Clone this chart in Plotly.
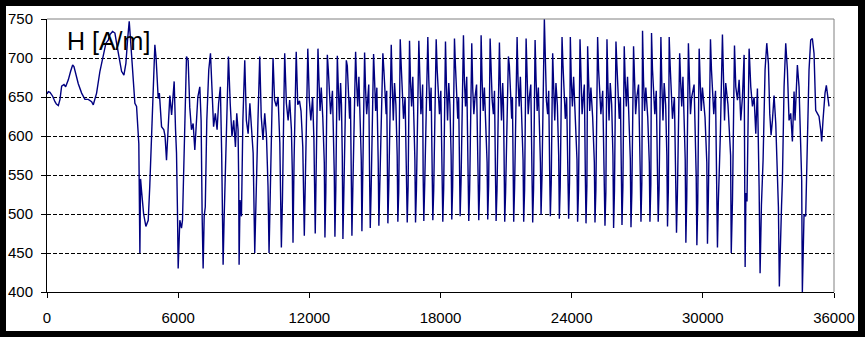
import plotly.graph_objects as go

# ---- data (position, H in A/m) ----
seg_start = [(0, 654), (60, 657), (137, 656), (200, 653), (259, 651), (365, 644), (430, 641),
             (518, 639), (594, 647), (670, 664), (777, 666), (853, 663), (975, 672), (1081, 683),
             (1173, 691), (1233, 689), (1325, 678), (1431, 667), (1584, 655), (1736, 647),
             (1888, 647), (2041, 644), (2117, 640), (2269, 655), (2421, 683), (2574, 704),
             (2695, 719), (2802, 723), (2878, 730), (3000, 734), (3107, 732), (3183, 719),
             (3305, 698), (3411, 683), (3518, 678), (3609, 693), (3685, 723), (3761, 747),
             (3822, 723), (3914, 689), (3974, 667), (4020, 642), (4097, 638), (4143, 620), (4200, 590)]

seg_early = [(4249, 450), (4280, 545), (4330, 528), (4420, 500), (4523, 484), (4580, 488), (4630, 492),
             (4700, 535), (4782, 599), (4858, 680), (4934, 717), (4990, 700), (5040, 660), (5087, 648),
             (5140, 655), (5240, 612), (5345, 608), (5400, 600), (5467, 569), (5530, 603), (5619, 652),
             (5700, 627), (5760, 650), (5817, 670), (5880, 608), (5924, 578), (5970, 500),
             (6000, 430), (6076, 492), (6152, 482), (6198, 492), (6250, 556), (6305, 620), (6381, 702),
             (6457, 697), (6530, 637), (6609, 608), (6685, 616), (6762, 582), (6830, 620), (6900, 650),
             (6990, 663), (7050, 620), (7097, 497),
             (7142, 430), (7190, 497), (7240, 509), (7310, 620), (7400, 685), (7478, 706), (7550, 646),
             (7620, 612), (7700, 629), (7780, 608), (7850, 642), (7930, 663), (7990, 578), (8030, 501),
             (8056, 435), (8100, 492), (8170, 556), (8240, 642), (8300, 702), (8380, 642), (8460, 599),
             (8540, 620), (8620, 586), (8680, 629), (8740, 608), (8770, 540),
             (8787, 435), (8830, 518), (8895, 497), (8960, 620), (9046, 697), (9120, 620), (9200, 603),
             (9280, 642), (9350, 612), (9430, 578),
             (9503, 450), (9550, 518), (9650, 620), (9731, 702), (9800, 625), (9880, 595), (9960, 629),
             (10040, 599), (10110, 535),
             (10157, 450), (10210, 526), (10290, 672), (10340, 700), (10410, 646), (10490, 638),
             (10570, 650), (10650, 591),
             (10721, 457), (10770, 518), (10840, 650), (10873, 706), (10950, 642), (11030, 620),
             (11100, 646), (11180, 608), (11220, 556),
             (11253, 463), (11300, 565), (11400, 708), (11470, 640), (11550, 645), (11620, 632), (11700, 586),
             (11770, 472), (11830, 561), (11930, 712), (12000, 646), (12070, 620), (12150, 650), (12210, 595)]

seg_mid1 = [(12270, 475), (12310, 535), (12395, 712), (12440, 672), (12490, 632), (12545, 662), (12615, 624), (12684, 566),
            (12714, 470), (12754, 528), (12823, 704), (12868, 685), (12918, 645), (12973, 628), (13057, 658), (13141, 552),
            (13171, 471), (13211, 532), (13280, 703), (13325, 664), (13375, 620), (13430, 668), (13470, 640), (13507, 575),
            (13537, 468), (13577, 525), (13692, 697), (13737, 690), (13787, 655), (13842, 622), (13880, 650), (13918, 560),
            (13948, 472), (13988, 530), (14117, 708), (14162, 670), (14212, 638), (14267, 676), (14320, 618), (14375, 570),
            (14405, 478), (14445, 536), (14528, 707), (14573, 660), (14623, 628), (14678, 650), (14718, 666), (14757, 548),
            (14787, 482), (14827, 530), (14939, 705), (14984, 672), (15034, 632), (15089, 662), (15120, 624), (15151, 566),
            (15181, 485), (15221, 538), (15364, 706), (15409, 685), (15459, 645), (15514, 628), (15540, 658), (15563, 552),
            (15593, 488), (15633, 533), (15747, 717), (15792, 664), (15842, 620), (15897, 668), (15960, 640), (16019, 575),
            (16049, 490), (16089, 528), (16158, 724), (16203, 690), (16253, 655), (16308, 622), (16380, 650), (16448, 560),
            (16478, 489), (16518, 535), (16583, 722), (16628, 670), (16678, 638), (16733, 676), (16780, 618), (16828, 570),
            (16858, 489), (16898, 530), (17009, 722), (17054, 660), (17104, 628), (17159, 650), (17183, 666), (17207, 548),
            (17237, 491), (17277, 537), (17420, 727), (17465, 672), (17515, 632), (17570, 662), (17595, 624), (17619, 566),
            (17649, 492), (17689, 530), (17803, 724), (17848, 685), (17898, 645), (17953, 628), (18015, 658), (18075, 552)]

seg_mid2 = [(18105, 490), (18145, 532), (18228, 721), (18273, 664), (18323, 620), (18378, 668), (18430, 640), (18486, 575),
            (18516, 493), (18556, 535), (18639, 725), (18684, 690), (18734, 655), (18789, 622), (18830, 650), (18869, 560),
            (18899, 497), (18939, 540), (19050, 729), (19095, 670), (19145, 638), (19200, 676), (19230, 618), (19263, 570),
            (19293, 491), (19333, 530), (19430, 719), (19475, 660), (19525, 628), (19580, 650), (19650, 666), (19720, 548),
            (19750, 492), (19790, 533), (19858, 729), (19903, 672), (19953, 632), (20008, 662), (20070, 624), (20131, 566),
            (20161, 493), (20201, 536), (20270, 725), (20315, 685), (20365, 645), (20420, 628), (20470, 658), (20514, 552),
            (20544, 491), (20584, 530), (20695, 720), (20740, 664), (20790, 620), (20845, 668), (20880, 640), (20908, 575),
            (20938, 490), (20978, 528), (21106, 702), (21151, 690), (21201, 655), (21256, 622), (21290, 650), (21319, 560),
            (21349, 490), (21389, 534), (21504, 727), (21549, 670), (21599, 638), (21654, 676), (21715, 618), (21776, 570),
            (21806, 490), (21846, 530), (21916, 725), (21961, 660), (22011, 628), (22066, 650), (22130, 666), (22187, 548),
            (22217, 489), (22257, 532), (22327, 723), (22372, 672), (22422, 632), (22477, 662), (22525, 624), (22570, 566),
            (22600, 499), (22640, 545), (22751, 750), (22796, 685), (22846, 645), (22901, 628), (22950, 658), (22995, 552),
            (23025, 497), (23065, 540), (23131, 706), (23176, 664), (23226, 620), (23281, 668), (23345, 640), (23406, 575),
            (23436, 494), (23476, 535), (23559, 727), (23604, 690), (23654, 655), (23709, 622), (23770, 650), (23832, 560),
            (23862, 494), (23902, 540), (23939, 727), (23984, 670), (24034, 638), (24089, 676), (24170, 618), (24243, 570)]

seg_mid3 = [(24273, 490), (24313, 530), (24382, 724), (24427, 660), (24477, 628), (24532, 650), (24580, 666), (24626, 548),
            (24656, 488), (24696, 536), (24730, 715), (24775, 672), (24825, 632), (24880, 662), (24960, 624), (25037, 566),
            (25067, 489), (25107, 530), (25187, 727), (25232, 685), (25282, 645), (25337, 628), (25420, 658), (25494, 552),
            (25524, 485), (25564, 528), (25615, 724), (25660, 664), (25710, 620), (25765, 668), (25830, 640), (25888, 575),
            (25918, 482), (25958, 530), (26026, 721), (26071, 690), (26121, 655), (26176, 622), (26230, 650), (26272, 560),
            (26302, 486), (26342, 534), (26405, 715), (26450, 670), (26500, 638), (26555, 676), (26620, 618), (26683, 570),
            (26713, 483), (26753, 528), (26831, 715), (26876, 660), (26926, 628), (26981, 650), (27060, 666), (27140, 548),
            (27170, 490), (27210, 540), (27242, 735), (27287, 672), (27337, 632), (27392, 662), (27480, 624), (27551, 566),
            (27581, 490), (27621, 538), (27653, 732), (27698, 685), (27748, 645), (27803, 628), (27870, 658), (27929, 552),
            (27959, 490), (27999, 532), (28082, 727), (28127, 664), (28177, 620), (28232, 668), (28300, 640), (28354, 575),
            (28384, 484), (28424, 533), (28461, 727), (28506, 690), (28556, 655), (28611, 622), (28700, 650), (28766, 560),
            (28796, 476), (28836, 525), (28940, 706), (28985, 670), (29035, 638), (29090, 676), (29150, 618), (29194, 570),
            (29224, 463), (29264, 520), (29340, 719), (29385, 660), (29435, 628), (29490, 650), (29600, 666), (29697, 548),
            (29727, 460), (29767, 515), (29832, 712), (29877, 672), (29927, 632), (29982, 662), (30100, 624), (30182, 566),
            (30212, 462), (30252, 520), (30350, 724), (30395, 685), (30445, 645), (30500, 628), (30580, 658), (30639, 552),
            (30669, 457), (30709, 515), (30800, 600), (30897, 730), (30942, 664), (30992, 620), (31047, 668), (31150, 640), (31270, 575)]

seg_end = [(31300, 450), (31356, 518), (31448, 716), (31508, 663), (31584, 646), (31660, 672), (31736, 620),
           (31812, 650), (31889, 704),
           (31935, 432), (31970, 527), (32020, 516), (32070, 600), (32117, 712), (32193, 663), (32269, 638),
           (32345, 650), (32422, 603), (32497, 661), (32543, 599), (32574, 535),
           (32619, 424), (32680, 511), (32756, 569), (32847, 685), (32924, 719), (33000, 693), (33061, 629),
           (33122, 601), (33183, 620), (33259, 652), (33336, 616), (33411, 543), (33457, 509),
           (33500, 407), (33564, 505), (33600, 510), (33640, 543), (33716, 663), (33792, 719), (33868, 685),
           (33944, 620), (34020, 629), (34097, 593), (34173, 657), (34218, 620), (34279, 655), (34325, 691),
           (34401, 663), (34477, 586), (34522, 543),
           (34552, 400), (34629, 499), (34705, 497), (34781, 578), (34858, 685), (34934, 723), (35010, 725),
           (35086, 706), (35163, 633), (35239, 629), (35315, 625), (35391, 608), (35437, 593), (35497, 620),
           (35589, 655), (35650, 665), (35711, 650), (35772, 638)]

x_ticks = [0, 6000, 12000, 18000, 24000, 30000, 36000]
y_ticks = [400, 450, 500, 550, 600, 650, 700, 750]
title_text = "H [A/m]"

segments = [seg_start, seg_early, seg_mid1, seg_mid2, seg_mid3, seg_end]
pos = [p[0] for s in segments for p in s]
field = [p[1] for s in segments for p in s]

fig = go.Figure(go.Scatter(x=pos, y=field, mode="lines",
                           line=dict(color="#000080", width=1.4), hoverinfo="skip"))

fig.update_layout(
    width=865, height=337,
    margin=dict(l=47, r=31, t=19, b=45),
    paper_bgcolor="black", plot_bgcolor="white",
    showlegend=False,
    font=dict(family="Liberation Sans, Arial, sans-serif", size=15, color="black"),
)
fig.update_xaxes(range=[0, 36000], tickvals=x_ticks, ticktext=[str(v) for v in x_ticks],
                 ticks="outside", ticklen=5, tickcolor="black", tickwidth=1,
                 ticklabelstandoff=7, automargin=False,
                 showline=True, linecolor="black", linewidth=1,
                 showgrid=False, zeroline=False)
fig.update_yaxes(range=[400, 750], tickvals=y_ticks,
                 ticks="outside", ticklen=5, tickcolor="black", tickwidth=1,
                 ticklabelstandoff=5, automargin=False,
                 showline=True, linecolor="black", linewidth=1,
                 showgrid=True, gridcolor="black", gridwidth=1, griddash="4px,2px",
                 zeroline=False)

pw, ph = 787.0, 273.0
fig.add_shape(type="rect", xref="paper", yref="paper", layer="below",
              x0=(6 - 47) / pw, x1=(858 - 47) / pw, y0=(292 - 331) / ph, y1=(292 - 6) / ph,
              fillcolor="white", line=dict(width=0))
fig.add_shape(type="line", xref="paper", yref="paper", x0=0, x1=1, y0=1, y1=1,
              line=dict(color="#808080", width=1))
fig.add_shape(type="line", xref="paper", yref="paper", x0=1, x1=1, y0=0, y1=1,
              line=dict(color="#808080", width=1))

fig.add_annotation(text=title_text, xref="paper", yref="paper", x=18 / pw, y=(292 - 41) / ph,
                   xanchor="left", yanchor="middle", showarrow=False,
                   font=dict(size=25, color="black"))

fig.write_html("out.html", config={"displayModeBar": False},
               post_script="document.body.style.margin='0px';")
